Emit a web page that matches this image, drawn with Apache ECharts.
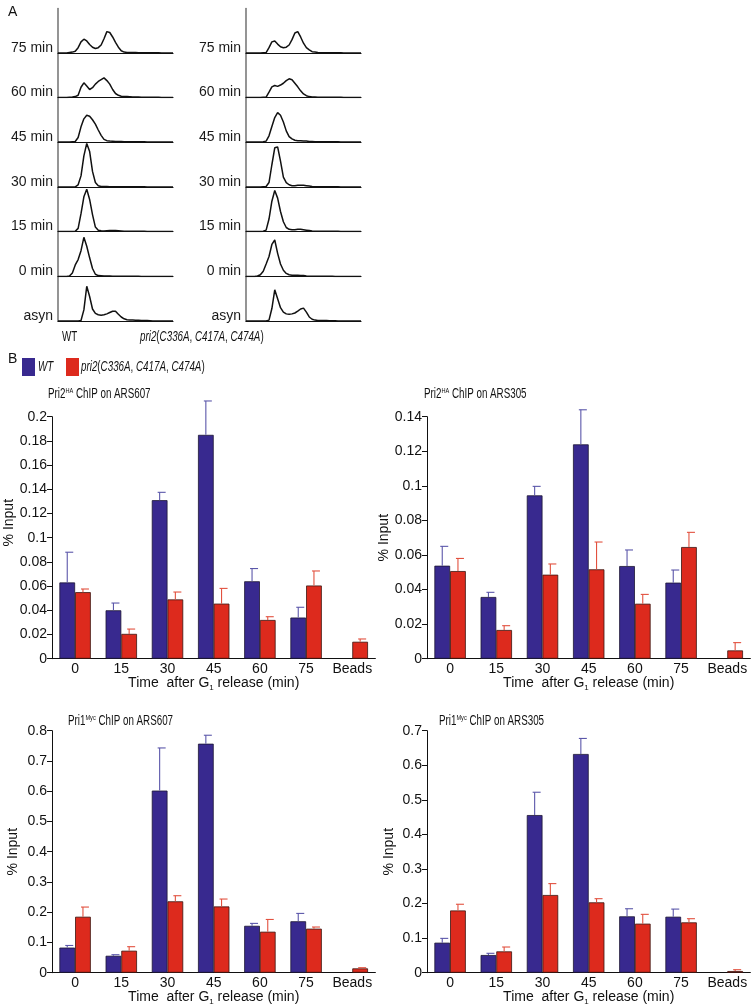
<!DOCTYPE html>
<html><head><meta charset="utf-8">
<script src="https://cdn.jsdelivr.net/npm/echarts@6/dist/echarts.min.js"></script>
<style>html,body{margin:0;padding:0;background:#fff}#c{width:752px;height:1007px}</style>
</head><body><div id="c"></div>
<script>
// ---------- Panel A: flow cytometry histograms ----------
const flowChannels = [0,25,50,75,100,125,150,175,200,225,250,275,300,325,350,375,400,425,450,475,500,525,550,575,600,625,650,675,700,725,750,775,800,825,850,875,900,925,950,975,1000];
const timeLabels = ['75 min','60 min','45 min','30 min','15 min','0 min','asyn'];
// WT column, top to bottom (75,60,45,30,15,0,asyn); % of panel height
const wt75 = [0,0,0,0,1,2,4,12,25,31,27,19,13,10,12,18,32,48,46,36,24,13,5,2,1,1,1,1,0.5,0.5,0.5,0.5,0.5,0.5,0.5,0.5,0,0,0,0,0];
const wt60 = [0,0,0,0,0.5,1,2,5,23,33,26,18,22,30,36,40,44,38,30,18,9,5,3,2,2,1.5,1,1,1,0.5,0.5,0.5,0.5,0.5,0.5,0.5,0,0,0,0,0];
const wt45 = [0,0,0,0,0,0.5,1,10,34,52,60,58,50,40,27,15,6,3,2,1.5,1,1,1,0.5,0.5,0.5,0.5,0.5,0.5,0.5,0.5,0,0,0,0,0,0,0,0,0,0];
const wt30 = [0,0,0,0,0,0,0.5,5,25,70,98,80,35,10,3,1,1,1,0.5,0.5,0.5,0.5,0.5,0.5,0.5,0.5,0.5,0.5,0.5,0.5,0.5,0,0,0,0,0,0,0,0,0,0];
const wt15 = [0,0,0,0,0,0,0.5,7,40,78,95,72,38,10,3,1.5,1,1.5,2,2,2,1.5,1,0.5,0.5,0.5,0.5,0.5,0.5,0.5,0.5,0,0,0,0,0,0,0,0,0,0];
const wt0 = [0,0,0,0,1,8,26,38,58,88,68,42,18,5,2,1.5,1,1,1,0.5,0.5,0.5,0.5,0.5,0.5,0.5,0.5,0.5,0.5,0,0,0,0,0,0,0,0,0,0,0,0];
const wtAsyn = [0,0,0,0,0,0,0,0,1,25,78,55,27,17,14,13,14,16,19,22,22,15,9,5,3,2,2,1.5,1.5,1,1,1,0.5,0,0,0,0,0,0,0,0];
// pri2 mutant column
const m75 = [0,0,0,0,0,0,0.5,1,12,25,27,20,14,12,13,18,30,45,48,36,22,12,7,3,2,1,0.5,0.5,0.5,0.5,0.5,0.5,0.5,0.5,0,0,0,0,0,0,0];
const m60 = [0,0,0,0,0,0,0.5,1,12,24,27,25,28,32,38,42,40,32,24,15,8,4,2,1,1,0.5,0.5,0.5,0.5,0.5,0.5,0.5,0.5,0.5,0,0,0,0,0,0,0];
const m45 = [0,0,0,0,0,0,0.5,2,14,35,55,66,60,45,25,12,7,4,3,3,2,2,1,1,0.5,0.5,0.5,0.5,0.5,0.5,0.5,0.5,0.5,0,0,0,0,0,0,0,0];
const m30 = [0,0,0,0,0,0,0.5,1,10,50,88,90,58,22,10,5,3,3,4,4,4,3,2,1,0.5,0.5,0.5,0.5,0.5,0.5,0.5,0.5,0.5,0,0,0,0,0,0,0,0];
const m15 = [0,0,0,0,0,0,0.5,3,28,68,92,75,45,22,9,5,4,4,5,5,4,3,2,1,0.5,0.5,0.5,0.5,0.5,0.5,0.5,0.5,0.5,0,0,0,0,0,0,0,0];
const m0 = [0,0,0,0,1,4,12,28,45,72,82,52,28,14,7,4,3,3,3,2,2,1,0.5,0.5,0.5,0.5,0.5,0.5,0.5,0.5,0.5,0,0,0,0,0,0,0,0,0,0];
const mAsyn = [0,0,0,0,0,0,0,0,2,28,70,50,30,20,16,15,16,18,22,27,29,20,9,4,2,1,1,1,1,0.5,0.5,0.5,0,0,0,0,0,0,0,0,0];
const wtHist = [wt75, wt60, wt45, wt30, wt15, wt0, wtAsyn];
const mutHist = [m75, m60, m45, m30, m15, m0, mAsyn];

// ---------- Panel B: ChIP bar charts ----------
const categories = ['0','15','30','45','60','75','Beads'];
const chartTitles = [
  ['Pri2','HA',' ChIP on ARS607'],
  ['Pri2','HA',' ChIP on ARS305'],
  ['Pri1','Myc',' ChIP on ARS607'],
  ['Pri1','Myc',' ChIP on ARS305']
];
const yMax = [0.2, 0.14, 0.8, 0.7];
const yStep = [0.02, 0.02, 0.1, 0.1];
// Pri2HA on ARS607
const wtA607 = [0.063, 0.040, 0.131, 0.185, 0.064, 0.034, null];
const wtA607Err = [0.025, 0.006, 0.0065, 0.028, 0.0105, 0.0085, null];
const mutA607 = [0.055, 0.0205, 0.049, 0.0455, 0.032, 0.0605, 0.014];
const mutA607Err = [0.0026, 0.004, 0.0061, 0.0126, 0.0027, 0.012, 0.0023];
// Pri2HA on ARS305
const wtA305 = [0.0538, 0.0357, 0.0945, 0.124, 0.0536, 0.044, null];
const wtA305Err = [0.0112, 0.0027, 0.0052, 0.020, 0.0093, 0.0073, null];
const mutA305 = [0.0507, 0.0166, 0.0486, 0.0517, 0.0318, 0.0646, 0.0048];
const mutA305Err = [0.0073, 0.0025, 0.0062, 0.0158, 0.0054, 0.0085, 0.0045];
// Pri1Myc on ARS607
const wtB607 = [0.083, 0.056, 0.602, 0.757, 0.155, 0.170, null];
const wtB607Err = [0.007, 0.0035, 0.141, 0.028, 0.008, 0.026, null];
const mutB607 = [0.185, 0.0727, 0.236, 0.219, 0.1355, 0.1455, 0.0143];
const mutB607Err = [0.032, 0.0133, 0.0185, 0.0245, 0.0405, 0.0055, 0.0022];
// Pri1Myc on ARS305
const wtB305 = [0.0868, 0.0511, 0.456, 0.6326, 0.163, 0.162, null];
const wtB305Err = [0.0125, 0.005, 0.066, 0.045, 0.022, 0.022, null];
const mutB305 = [0.180, 0.0617, 0.2247, 0.2035, 0.1418, 0.1456, 0.0048];
const mutB305Err = [0.018, 0.0126, 0.033, 0.0106, 0.027, 0.0106, 0.0039];

const wtSets = [[wtA607, wtA607Err],[wtA305, wtA305Err],[wtB607, wtB607Err],[wtB305, wtB305Err]];
const mutSets = [[mutA607, mutA607Err],[mutA305, mutA305Err],[mutB607, mutB607Err],[mutB305, mutB305Err]];

const WT_NAME = 'WT';
const MUT_NAME = 'pri2(C336A, C417A, C474A)';
const MUT_RICH = '{i|pri2}{n|(}{i|C336A}{n|, }{i|C417A}{n|, }{i|C474A}{n|)}';

// ---------- styling ----------
const FONT = "'Liberation Sans', Arial, Helvetica, sans-serif";
const BLUE = '#38298f', RED = '#dd2a1d';
const BLUE_ERR = '#5b57aa', RED_ERR = '#e2513f';
const CAT_GAP = 0.32;
const SQUEEZE = 0.7; // the figure's caption text is horizontally condensed

const grids = [], xAxes = [], yAxes = [], series = [], graphics = [];

function condensedText(x, y, text, rich, extra) {
  return Object.assign({type:'text', x:x, y:y, scaleX:SQUEEZE, silent:true,
    style:{text:text, fontSize:14, fontFamily:FONT, fill:'#111', verticalAlign:'middle', align:'left', rich:rich}}, extra || {});
}
const richCaption = {
  i:{fontSize:14, fontStyle:'italic', fontFamily:FONT, fill:'#111'},
  n:{fontSize:14, fontFamily:FONT, fill:'#111'}
};

// Panel A layout
const histBase = [53, 97.5, 142, 187, 231.5, 276.5, 321];
const histH = 44.5;
const histLeft = [58, 246];
[wtHist, mutHist].forEach((col, c) => {
  col.forEach((vals, r) => {
    const gi = grids.length;
    grids.push({left: histLeft[c], top: histBase[r] - histH, width: 115, height: histH});
    xAxes.push({type:'value', gridIndex: gi, min: 0, max: 1000,
      axisLine:{show:true, lineStyle:{color:'#111', width:1.2}}, axisTick:{show:false},
      axisLabel:{show:false}, splitLine:{show:false}});
    yAxes.push({type:'value', gridIndex: gi, min: 0, max: 100, interval: 100,
      axisLine:{show:true, lineStyle:{color:'#7a7a7a', width:1.6}}, axisTick:{show:false},
      splitLine:{show:false},
      axisLabel:{show:true, margin:5, color:'#1a1a1a', fontSize:14, fontFamily: FONT,
        verticalAlign:'bottom', lineHeight: 10,
        formatter: (v) => v === 0 ? timeLabels[r] : ''}});
    series.push({type:'line', xAxisIndex: gi, yAxisIndex: gi, showSymbol:false, symbol:'none',
      data: flowChannels.map((x, i) => [x, vals[i]]),
      lineStyle:{color:'#111', width:1.5}, silent:true, animation:false});
  });
});

// Panel B layout
const barGrids = [
  {left:52, top:416.7, width:323.4, height:242, nameGap:36, title:[48, 394]},
  {left:427, top:416.7, width:323.4, height:242, nameGap:35, title:[424, 394]},
  {left:52, top:730.7, width:323.4, height:242, nameGap:32, title:[68, 721]},
  {left:427, top:730.7, width:323.4, height:242, nameGap:31, title:[439, 721]}
];

function errRenderer(side, color) {
  return function(params, api) {
    const v = api.value(1), e = api.value(2);
    if (v == null || isNaN(v) || e == null || isNaN(e)) return;
    const base = api.coord([api.value(0), v]);
    const top = api.coord([api.value(0), v + e]);
    const band = api.size([1, 0])[0];
    const bw = band * (1 - CAT_GAP) / 2;
    const cx = base[0] + side * bw / 2;
    return {type:'group', children:[
      {type:'line', shape:{x1:cx, y1:base[1], x2:cx, y2:top[1]}, style:{stroke:color, lineWidth:1.1}},
      {type:'line', shape:{x1:cx - 2, y1:top[1], x2:cx + 6, y2:top[1]}, style:{stroke:color, lineWidth:1.1}}
    ]};
  };
}

barGrids.forEach((g, k) => {
  const gi = grids.length;
  grids.push({left:g.left, top:g.top, width:g.width, height:g.height});
  xAxes.push({type:'category', gridIndex: gi, data: categories,
    axisLine:{show:true, lineStyle:{color:'#111', width:1}}, axisTick:{show:false},
    axisLabel:{color:'#111', fontSize:14, fontFamily:FONT, margin:3, interval:0},
    name:'{n|Time  after G}{s|1}{n| release (min)}', nameLocation:'middle', nameGap:15,
    nameTextStyle:{color:'#111', fontFamily:FONT, verticalAlign:'top',
      rich:{n:{fontSize:14, fontFamily:FONT, color:'#111'}, s:{fontSize:8, fontFamily:FONT, color:'#111', padding:[8,0,0,0]}}}});
  yAxes.push({type:'value', gridIndex: gi, min:0, max:yMax[k], interval:yStep[k],
    axisLine:{show:true, lineStyle:{color:'#111', width:1}},
    axisTick:{show:true, inside:false, length:5, lineStyle:{color:'#111'}},
    splitLine:{show:false},
    axisLabel:{color:'#111', fontSize:14, fontFamily:FONT, margin:5},
    name:'% Input', nameLocation:'middle', nameGap:g.nameGap,
    nameTextStyle:{color:'#111', fontSize:14, fontFamily:FONT, padding: k === 0 ? [0,0,0,30] : 0}});
  const wt = wtSets[k], mu = mutSets[k];
  series.push({type:'bar', name:WT_NAME, xAxisIndex:gi, yAxisIndex:gi, data: wt[0],
    barGap:'0%', barCategoryGap:(CAT_GAP*100)+'%',
    itemStyle:{color:BLUE, borderColor:'#1d1633', borderWidth:0.8}, animation:false});
  series.push({type:'bar', name:MUT_NAME, xAxisIndex:gi, yAxisIndex:gi, data: mu[0],
    barGap:'0%', barCategoryGap:(CAT_GAP*100)+'%',
    itemStyle:{color:RED, borderColor:'#3a1510', borderWidth:0.8}, animation:false});
  series.push({type:'custom', xAxisIndex:gi, yAxisIndex:gi, clip:false, z:5,
    renderItem: errRenderer(-1, BLUE_ERR),
    data: categories.map((c, i) => [i, wt[0][i], wt[1][i]]), animation:false});
  series.push({type:'custom', xAxisIndex:gi, yAxisIndex:gi, clip:false, z:5,
    renderItem: errRenderer(1, RED_ERR),
    data: categories.map((c, i) => [i, mu[0][i], mu[1][i]]), animation:false});
  const t = chartTitles[k];
  graphics.push(condensedText(g.title[0], g.title[1],
    '{n|' + t[0] + '}{s|' + t[1] + '}{n|' + t[2] + '}',
    {n:{fontSize:14, fontFamily:FONT, fill:'#111'},
     s:{fontSize:8, fontFamily:FONT, fill:'#111', verticalAlign:'top'}}));
});

// panel-A captions and legend text (condensed)
graphics.push(condensedText(62, 337, 'WT', null));
graphics.push(condensedText(140, 337, MUT_RICH, richCaption));
graphics.push(condensedText(38, 367, '{i|WT}', richCaption));
graphics.push(condensedText(81, 367, MUT_RICH, richCaption));

const option = {
  backgroundColor:'#fff',
  animation:false,
  title: [
    {left:3, top:0, text:'A', textStyle:{fontSize:14, fontWeight:'normal', fontFamily:FONT, color:'#111'}},
    {left:3, top:347, text:'B', textStyle:{fontSize:14, fontWeight:'normal', fontFamily:FONT, color:'#111'}}
  ],
  legend: {left:22, top:358, padding:0, itemWidth:13, itemHeight:18, itemGap:31, icon:'rect', selectedMode:false,
    itemStyle:{borderWidth:0},
    data:[{name:WT_NAME, itemStyle:{color:BLUE, borderWidth:0}}, {name:MUT_NAME, itemStyle:{color:RED, borderWidth:0}}],
    formatter: () => '',
    textStyle:{fontSize:14, fontFamily:FONT}},
  grid: grids,
  xAxis: xAxes,
  yAxis: yAxes,
  series: series,
  graphic: graphics
};
const chart = echarts.init(document.getElementById('c'), null, {renderer:'canvas'});
chart.setOption(option);
</script>
</body></html>
